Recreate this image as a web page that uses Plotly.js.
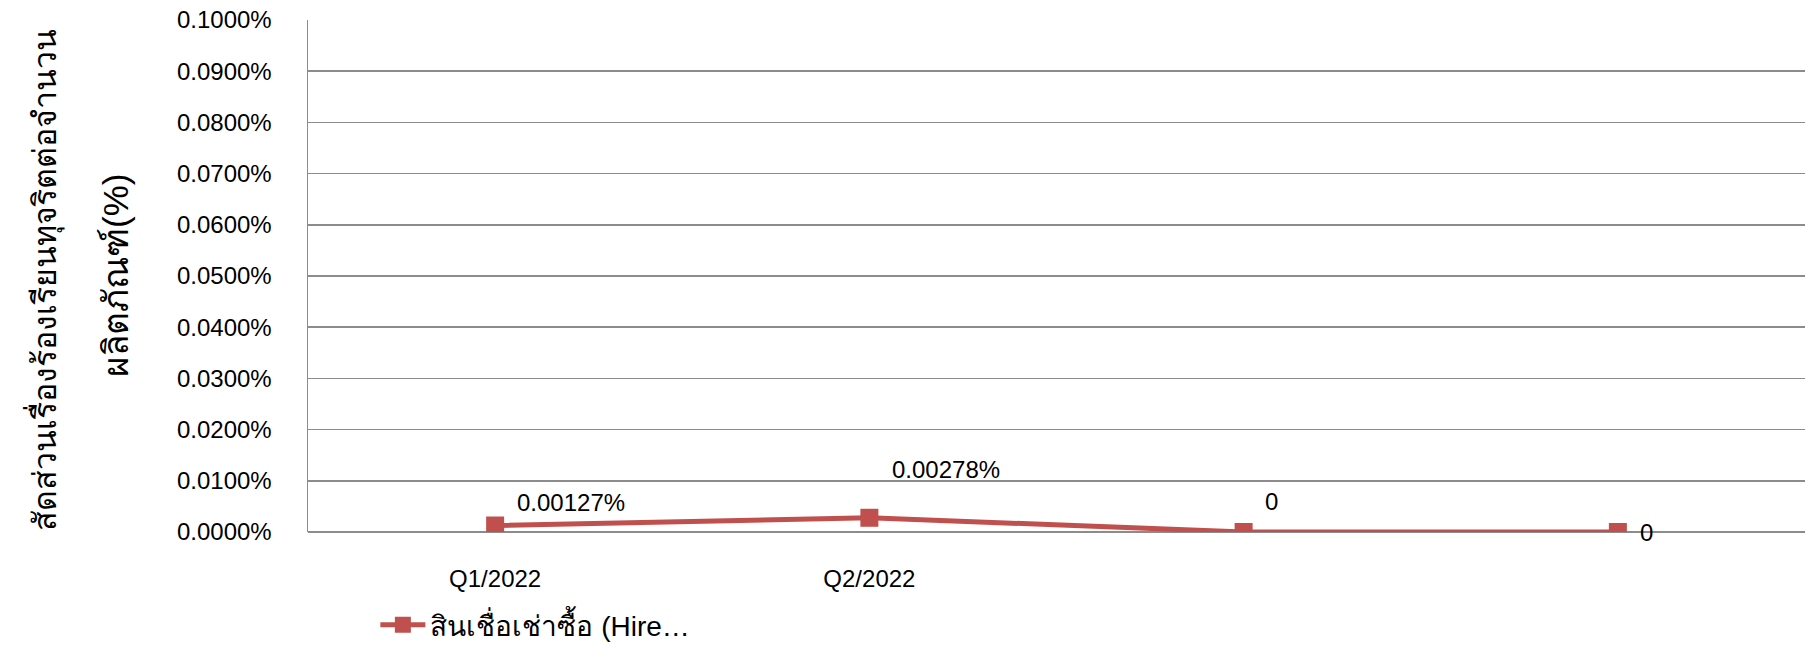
<!DOCTYPE html>
<html>
<head>
<meta charset="utf-8">
<script src="https://cdn.plot.ly/plotly-3.0.1.min.js"></script>
<style>html,body{margin:0;padding:0;background:#fff;}#chart{width:1805px;height:645px;}</style>
</head>
<body>
<div id="chart"></div>
<script>
// ---- data ----
const categories = ["Q1/2022", "Q2/2022", "", ""];
const seriesName = "สินเชื่อเช่าซื้อ (Hire…";
const values = [0.0000127, 0.0000278, 0, 0];
const dataLabels = ["0.00127%", "0.00278%", "0", "0"];
const yTitleLine1 = "สัดส่วนเรื่องร้องเรียนทุจริตต่อจำนวน";
const yTitleLine2 = "ผลิตภัณฑ์(%)";

// ---- style ----
const FONT = "Liberation Sans, Arial, sans-serif";
const RED = "#C0504D";
const GRID = "#8c8c8c";
const idx = categories.map((c, i) => i);
const labelOffsets = [[76, 23], [77, 48], [28, 31], [29, 0]];

const trace = {
  x: idx,
  y: values,
  type: "scatter",
  mode: "lines+markers",
  name: seriesName,
  line: {color: RED, width: 5},
  marker: {symbol: "square", size: 18, color: RED},
  hoverinfo: "skip"
};

const annotations = values.map((v, i) => ({
  x: idx[i], y: v, xref: "x", yref: "y",
  text: dataLabels[i], showarrow: false,
  xanchor: "center", yanchor: "middle",
  xshift: labelOffsets[i][0], yshift: labelOffsets[i][1],
  font: {family: FONT, size: 24, color: "#000"}
}));
annotations.push({
  xref: "paper", yref: "paper", x: 0, y: 0.5,
  xshift: -264, yshift: -4, textangle: -90,
  text: yTitleLine1, showarrow: false,
  xanchor: "center", yanchor: "middle",
  font: {family: FONT, size: 32, color: "#000"}
});
annotations.push({
  xref: "paper", yref: "paper", x: 0, y: 0.5,
  xshift: -193, yshift: 0, textangle: -90,
  text: yTitleLine2, showarrow: false,
  xanchor: "center", yanchor: "middle",
  font: {family: FONT, size: 35, color: "#000"}
});

const layout = {
  width: 1805, height: 645,
  margin: {l: 308, r: 0, t: 20, b: 113, pad: 0, autoexpand: false},
  paper_bgcolor: "#fff", plot_bgcolor: "#fff",
  font: {family: FONT, size: 24, color: "#000"},
  showlegend: true,
  legend: {
    orientation: "h", xref: "paper", yref: "container",
    x: 0.045, y: 0.031, xanchor: "left", yanchor: "middle",
    itemwidth: 45,
    font: {family: FONT, size: 28, color: "#000"}, bgcolor: "rgba(0,0,0,0)"
  },
  xaxis: {
    range: [-0.5, 3.5], tickmode: "array", tickvals: idx, ticktext: categories,
    showgrid: false, zeroline: false, showline: false, ticks: "",
    ticklabelstandoff: 30, tickfont: {family: FONT, size: 24, color: "#000"},
    automargin: false, fixedrange: true
  },
  yaxis: {
    range: [0, 0.001], dtick: 0.0001, tick0: 0, tickformat: ".4%",
    showgrid: true, gridcolor: GRID, gridwidth: 1.5,
    zeroline: true, zerolinecolor: GRID, zerolinewidth: 1.5,
    showline: true, linecolor: GRID, linewidth: 1.5, ticks: "",
    ticklabelstandoff: 30, tickfont: {family: FONT, size: 24, color: "#000"},
    automargin: false, fixedrange: true
  },
  annotations: annotations
};

Plotly.newPlot("chart", [trace], layout, {displayModeBar: false, staticPlot: true});
</script>
</body>
</html>
